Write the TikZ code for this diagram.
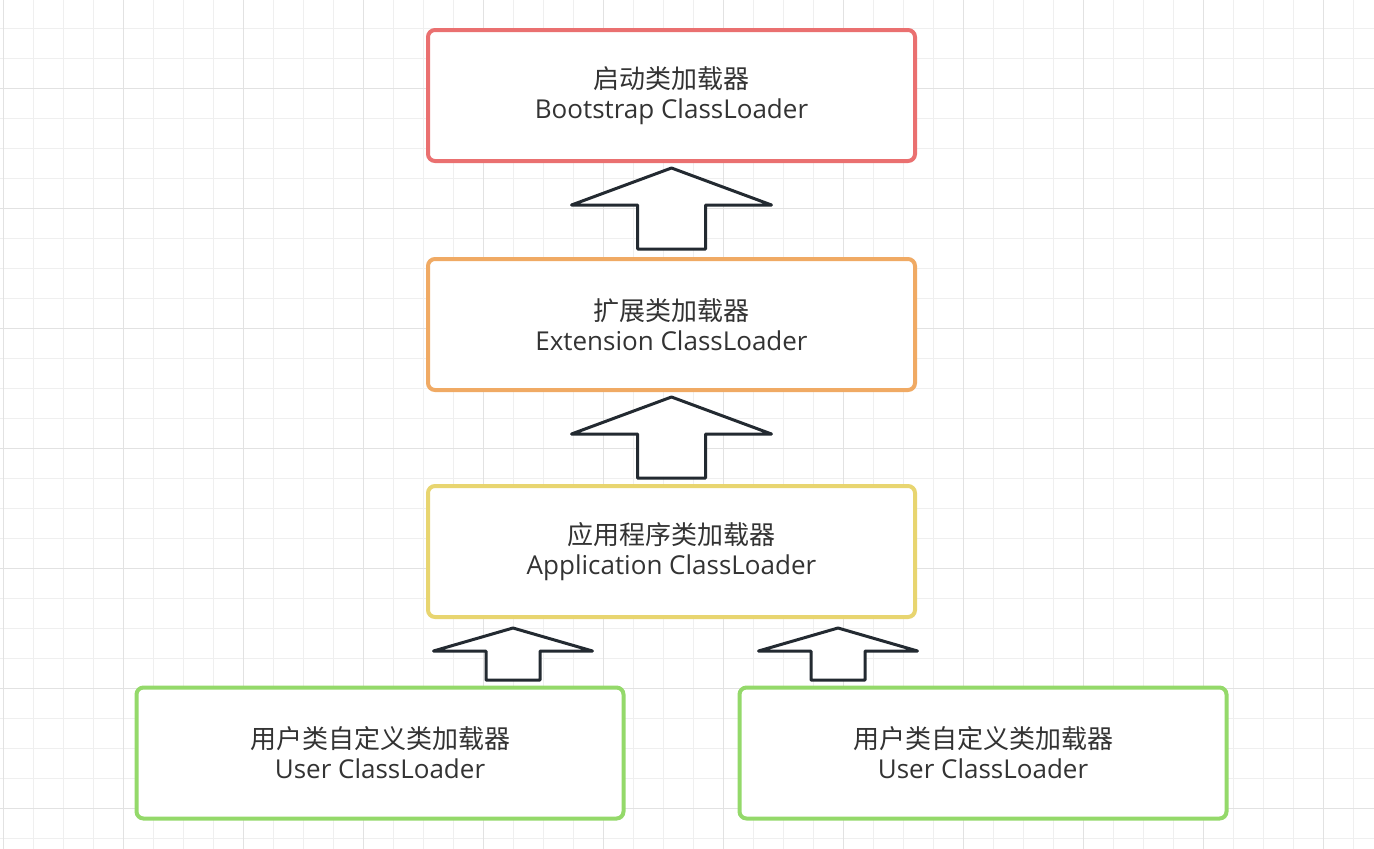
\documentclass[tikz,border=0pt]{standalone}
\usepackage{fontspec}
\setmainfont{Open Sans}
\newfontfamily\cjk{Noto Sans CJK SC}
\usetikzlibrary{positioning, calc}
\definecolor{bootred}{HTML}{EA7070}
\definecolor{extorange}{HTML}{F0AA64}
\definecolor{appyellow}{HTML}{E8D570}
\definecolor{usergreen}{HTML}{94D96A}
\definecolor{arrowdark}{HTML}{232A31}
\definecolor{textgray}{HTML}{333333}
\definecolor{gridminor}{HTML}{EFEFEF}
\definecolor{gridmajor}{HTML}{E2E2E2}

\tikzset{
  pics/fatarrow/.style n args={4}{code={
    \draw[arrowline] (0,0) -- (#1,#2) -- (#3,#2) -- (#3,#4) -- (-#3,#4) -- (-#3,#2) -- (-#1,#2) -- cycle;
  }}
}

\begin{document}
\begin{tikzpicture}[
  x=1pt, y=-1pt,
  loader/.style={rectangle, rounded corners=7pt, line width=4pt, fill=white, minimum width=487pt, minimum height=131pt, align=center, text=textgray, font=\fontsize{26}{30}\selectfont},
  arrowline/.style={draw=arrowdark, fill=white, line width=3pt, line join=round},
  minorline/.style={draw=gridminor, line width=1pt},
  majorline/.style={draw=gridmajor, line width=1pt}
]
  % Background and grid
  \useasboundingbox (0,0) rectangle (1374,849);
  \fill[white] (0,0) rectangle (1374,849);
  \foreach \gx in {3,33,...,1373} \draw[minorline] (\gx,0) -- (\gx,849);
  \foreach \gy in {28,58,...,848} \draw[minorline] (0,\gy) -- (1374,\gy);
  \foreach \gx in {3,123,...,1373} \draw[majorline] (\gx,0) -- (\gx,849);
  \foreach \gy in {88,208,...,848} \draw[majorline] (0,\gy) -- (1374,\gy);

  % Class loaders
  \node[loader, draw=bootred] (boot) at (671.5, 95.5) {{\cjk 启动类加载器}\\Bootstrap ClassLoader};
  \node[loader, draw=extorange] (ext) at (671.5, 324.5) {{\cjk 扩展类加载器}\\Extension ClassLoader};
  \node[loader, draw=appyellow] (app) at (671.5, 551.5) {{\cjk 应用程序类加载器}\\Application ClassLoader};
  \node[loader, draw=usergreen] (user1) at (380, 753) {{\cjk 用户类自定义类加载器}\\User ClassLoader};
  \node[loader, draw=usergreen] (user2) at (983, 753) {{\cjk 用户类自定义类加载器}\\User ClassLoader};

  % Delegation arrows
  \pic at ($(boot.south)+(0,5)$) {fatarrow={100}{37}{34}{81}};
  \pic at ($(ext.south)+(0,5)$) {fatarrow={100}{37}{34}{81}};
  \pic at ($(app.south)+(-158.5,9)$) {fatarrow={79.5}{23}{27}{52}};
  \pic at ($(app.south)+(166.5,9)$) {fatarrow={79.5}{23}{27}{52}};
\end{tikzpicture}
\end{document}
